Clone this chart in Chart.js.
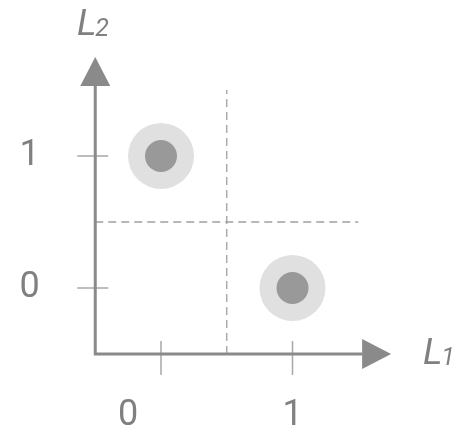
<!DOCTYPE html>
<html>
<head>
<meta charset="utf-8">
<script src="https://cdn.jsdelivr.net/npm/chart.js@4"></script>
<style>
  html, body { margin: 0; padding: 0; background: #fff; }
  #wrap { width: 460px; height: 435px; }
</style>
</head>
<body>
<div id="wrap"><canvas id="c"></canvas></div>
<script>
// the two points
const pointsX = [0, 1];
const pointsY = [1, 0];

// ticks and their labels
const tickValues = [0, 1];
const xTickLabels = ['0', '1'];
const xTickLabelAt = [-0.25, 1];
const yTickLabels = ['0', '1'];

// axis / guide geometry in data units
const axisStart = -0.5;
const axisEnd = 1.75;
const split = 0.5;
const splitEnd = 1.5;

const axisColor = '#8a8a8a';
const tickColor = '#a8a8a8';
const textColor = '#808080';

// draws axes, arrows, ticks and labels through the chart scales
const axesPlugin = {
  id: 'axesPlugin',
  beforeDatasetsDraw(chart) {
    const ctx = chart.ctx;
    const xs = chart.scales.x, ys = chart.scales.y;
    const px = v => xs.getPixelForValue(v);
    const py = v => ys.getPixelForValue(v);
    ctx.save();

    // dashed guides
    ctx.strokeStyle = '#a0a0a0';
    ctx.lineWidth = 1.3;
    ctx.setLineDash([8, 5]);
    ctx.beginPath();
    ctx.moveTo(px(split), py(axisStart));
    ctx.lineTo(px(split), py(splitEnd));
    ctx.moveTo(px(axisStart), py(split));
    ctx.lineTo(px(splitEnd), py(split));
    ctx.stroke();
    ctx.setLineDash([]);

    // tick marks
    ctx.strokeStyle = tickColor;
    ctx.lineWidth = 1.5;
    ctx.beginPath();
    tickValues.forEach(v => {
      ctx.moveTo(px(v), py(axisStart) - 13);
      ctx.lineTo(px(v), py(axisStart) + 21);
      ctx.moveTo(px(axisStart) - 18, py(v));
      ctx.lineTo(px(axisStart) + 13, py(v));
    });
    ctx.stroke();

    // axis lines
    const ox = px(axisStart), oy = py(axisStart);
    const tipX = px(axisEnd), tipY = py(axisEnd);
    const head = 29, half = 15;
    ctx.strokeStyle = axisColor;
    ctx.lineWidth = 3;
    ctx.beginPath();
    ctx.moveTo(ox, tipY + head);
    ctx.lineTo(ox, oy);
    ctx.lineTo(tipX - head, oy);
    ctx.stroke();

    // arrow heads
    ctx.fillStyle = axisColor;
    ctx.beginPath();
    ctx.moveTo(tipX, oy);
    ctx.lineTo(tipX - head, oy - half);
    ctx.lineTo(tipX - head, oy + half);
    ctx.closePath();
    ctx.fill();
    ctx.beginPath();
    ctx.moveTo(ox, tipY);
    ctx.lineTo(ox - half, tipY + head);
    ctx.lineTo(ox + half, tipY + head);
    ctx.closePath();
    ctx.fill();

    // tick labels
    ctx.fillStyle = textColor;
    ctx.font = '36px Roboto';
    ctx.textAlign = 'center';
    ctx.textBaseline = 'middle';
    xTickLabels.forEach((t, i) => ctx.fillText(t, px(xTickLabelAt[i]), py(-0.97)));
    yTickLabels.forEach((t, i) => ctx.fillText(t, px(-1.0), py(tickValues[i])));

    // axis names
    ctx.textAlign = 'left';
    ctx.textBaseline = 'alphabetic';
    const axisName = (x, y, sub) => {
      ctx.font = 'italic 37px Roboto';
      ctx.fillText('L', x, y);
      const w = ctx.measureText('L').width;
      ctx.font = 'italic 25px Roboto';
      ctx.fillText(sub, x + w - 1, y + 1);
    };
    axisName(77, 35, '2');
    axisName(423, 364, '1');

    ctx.restore();
  }
};

const pts = pointsX.map((x, i) => ({ x: x, y: pointsY[i] }));

new Chart(document.getElementById('c'), {
  type: 'scatter',
  data: {
    datasets: [
      {
        data: pts,
        order: 1,
        pointRadius: 16,
        pointHoverRadius: 16,
        backgroundColor: '#999999',
        borderWidth: 0
      },
      {
        data: pts,
        order: 2,
        pointRadius: 33,
        pointHoverRadius: 33,
        backgroundColor: '#e0e0e0',
        borderWidth: 0
      }
    ]
  },
  options: {
    responsive: true,
    maintainAspectRatio: false,
    animation: false,
    events: [],
    layout: { padding: 0, autoPadding: false },
    plugins: { legend: { display: false }, tooltip: { enabled: false } },
    scales: {
      x: { type: 'linear', display: false, min: -161 / 131.5, max: (460 - 161) / 131.5 },
      y: { type: 'linear', display: false, min: (288 - 435) / 132, max: 288 / 132 }
    }
  },
  plugins: [axesPlugin]
});
</script>
</body>
</html>
